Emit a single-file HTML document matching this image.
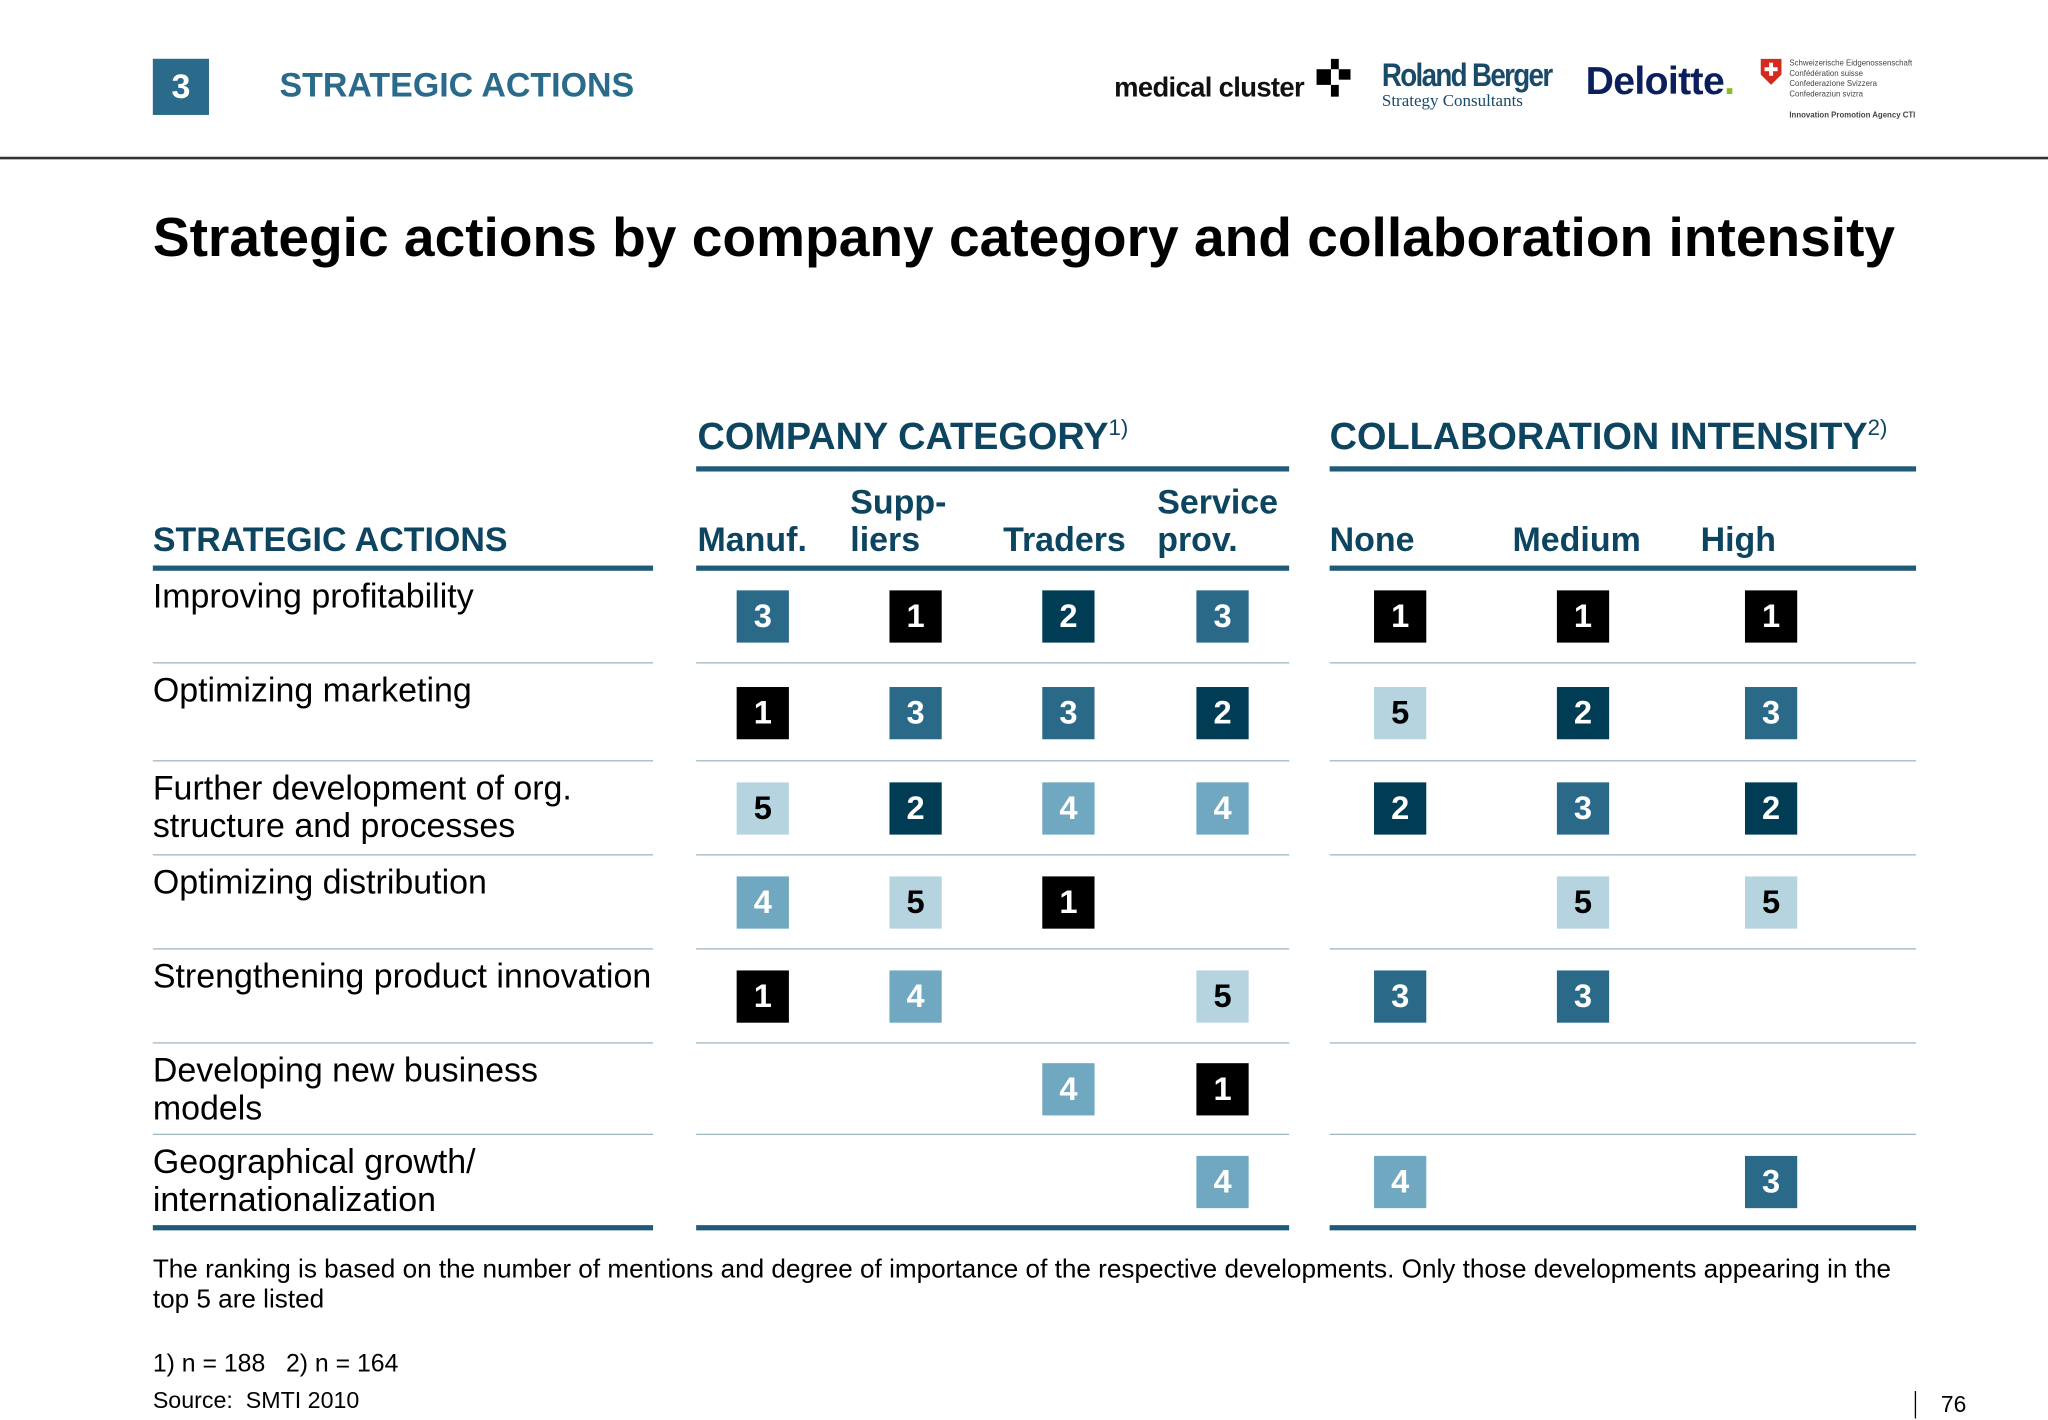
<!DOCTYPE html>
<html><head><meta charset="utf-8">
<style>
html,body{margin:0;padding:0;background:#fff;}
body{width:2048px;height:1418px;overflow:hidden;position:relative;font-family:"Liberation Sans",sans-serif;}
#stage{position:absolute;left:0;top:0;width:1568px;height:1086px;transform:scale(1.30612);transform-origin:0 0;}
.a{position:absolute;white-space:nowrap;}
.hdr{color:#0d4560;font-weight:bold;font-size:26px;line-height:29px;}
.lbl{font-size:26px;line-height:29px;color:#000;}
.thick{position:absolute;height:4px;background:#1f5a78;}
.thin{position:absolute;height:1px;background:#9fb8c4;}
.box{position:absolute;width:40px;height:40px;color:#fff;font-weight:bold;font-size:25px;line-height:40px;text-align:center;}
</style></head><body>
<div id="stage">
  <div class="a" style="left:117px;top:45px;width:43px;height:43px;background:#2a6a8a;color:#fff;font-size:26px;font-weight:bold;line-height:43px;text-align:center;">3</div>
  <div class="a" style="left:214px;top:48px;font-size:26px;font-weight:bold;color:#2a6a8a;line-height:34px;">STRATEGIC ACTIONS</div>

  <div class="a" style="left:853px;top:56px;font-size:21px;font-weight:bold;color:#111;letter-spacing:-0.5px;">medical cluster</div>
  <svg class="a" style="left:1006px;top:45px" width="30" height="30"><rect x="13" y="0" width="6" height="8" fill="#000"/><rect x="2" y="8" width="11" height="12" fill="#000"/><rect x="19" y="8" width="9" height="8" fill="#000"/><rect x="13" y="20" width="6" height="9" fill="#000"/></svg>
  <div class="a" style="left:1058px;top:44px;font-size:25px;font-weight:bold;color:#1a4a6a;letter-spacing:-1.5px;transform:scaleX(0.85);transform-origin:0 0;">Roland Berger</div>
  <div class="a" style="left:1058px;top:69px;font-size:13px;font-family:'Liberation Serif',serif;color:#1a4a6a;">Strategy Consultants</div>
  <div class="a" style="left:1214px;top:46px;font-size:30px;font-weight:bold;color:#0a1f5c;letter-spacing:-0.5px;">Deloitte<span style="color:#86bc25">.</span></div>
  <svg class="a" style="left:1348px;top:45px" width="16" height="20"><path d="M0 0H16V12L8 20L0 12Z" fill="#d52b1e"/><rect x="6.5" y="3" width="3" height="10" fill="#fff"/><rect x="3" y="6.5" width="10" height="3" fill="#fff"/></svg>
  <div class="a" style="left:1370px;top:45px;font-size:6px;line-height:8px;color:#444;">Schweizerische Eidgenossenschaft<br>Confédération suisse<br>Confederazione Svizzera<br>Confederaziun svizra<br><br><b>Innovation Promotion Agency CTI</b></div>

  <div class="a" style="left:0;top:120px;width:1568px;height:2px;background:#333;"></div>

  <div class="a" style="left:117px;top:156px;font-size:42.2px;font-weight:bold;color:#000;line-height:52px;">Strategic actions by company category and collaboration intensity</div>

  <div class="a" style="left:534px;top:311px;font-size:29px;font-weight:bold;color:#0d4560;line-height:34px;">COMPANY CATEGORY<sup style="font-size:17px;font-weight:normal;">1)</sup></div>
  <div class="a" style="left:1018px;top:311px;font-size:29px;font-weight:bold;color:#0d4560;line-height:34px;">COLLABORATION INTENSITY<sup style="font-size:17px;font-weight:normal;">2)</sup></div>
  <div class="thick" style="left:533px;top:357px;width:454px;"></div>
  <div class="thick" style="left:1018px;top:357px;width:449px;"></div>

  <div class="a hdr" style="left:117px;top:399px;">STRATEGIC ACTIONS</div>
  <div class="a hdr" style="left:534px;top:399px;">Manuf.</div>
  <div class="a hdr" style="left:651px;top:370px;">Supp-<br>liers</div>
  <div class="a hdr" style="left:768px;top:399px;">Traders</div>
  <div class="a hdr" style="left:886px;top:370px;">Service<br>prov.</div>
  <div class="a hdr" style="left:1018px;top:399px;">None</div>
  <div class="a hdr" style="left:1158px;top:399px;">Medium</div>
  <div class="a hdr" style="left:1302px;top:399px;">High</div>

  <div class="thick" style="left:117px;top:433px;width:383px;"></div>
  <div class="thick" style="left:533px;top:433px;width:454px;"></div>
  <div class="thick" style="left:1018px;top:433px;width:449px;"></div>

  <div class="thick" style="left:117px;top:938px;width:383px;"></div>
  <div class="thick" style="left:533px;top:938px;width:454px;"></div>
  <div class="thick" style="left:1018px;top:938px;width:449px;"></div>

  <div id="grid"></div>

  <div class="a" style="left:117px;top:961px;font-size:20px;line-height:23px;color:#000;">The ranking is based on the number of mentions and degree of importance of the respective developments. Only those developments appearing in the<br>top 5 are listed</div>
  <div class="a" style="left:117px;top:1033px;font-size:19px;line-height:23px;">1) n = 188&nbsp;&nbsp;&nbsp;2) n = 164</div>
  <div class="a" style="left:117px;top:1061px;font-size:17.8px;line-height:23px;">Source:&nbsp; SMTI 2010</div>
  <div class="a" style="left:1466px;top:1065px;width:1px;height:21px;background:#000;"></div>
  <div class="a" style="left:1486px;top:1064px;font-size:17.5px;line-height:23px;">76</div>
</div>
<script>
const actions = ["Improving profitability","Optimizing marketing","Further development of org.\nstructure and processes","Optimizing distribution","Strengthening product innovation","Developing new business\nmodels","Geographical growth/\ninternationalization"];
const companyCols = ["Manuf.","Suppliers","Traders","Service prov."];
const collabCols = ["None","Medium","High"];
const ranksCompany = [[3,1,2,3],[1,3,3,2],[5,2,4,4],[4,5,1,0],[1,4,0,5],[0,0,4,1],[0,0,0,4]];
const ranksCollab = [[1,1,1],[5,2,3],[2,3,2],[0,5,5],[3,3,0],[0,0,0],[4,0,3]];

const rowTops = [435,507,582,654,726,798,868,940];
const companyX = [584,701,818,936];
const collabX = [1072,1212,1356];
const colors = {1:"#000000",2:"#003d55",3:"#2a6a88",4:"#6fa8c0",5:"#b5d4e0"};
function rowCenter(i){ return (rowTops[i]+rowTops[i+1])/2 + 1; }

const g = document.getElementById('grid');
actions.forEach((t,i)=>{
  const d=document.createElement('div');
  d.className='a lbl';
  
  
  d.style.left='117px'; d.style.top=(rowTops[i]+7)+'px';
  d.innerHTML=t.replace('\n','<br>');
  g.appendChild(d);
  if(i<actions.length-1){
    [[117,383],[533,454],[1018,449]].forEach((s,k)=>{
      const l=document.createElement('div');
      l.className='thin';
      
      
      l.style.left=s[0]+'px'; l.style.width=s[1]+'px'; l.style.top=rowTops[i+1]+'px';
      g.appendChild(l);
    });
  }
  function drawBox(v,cx,name){
    if(!v) return;
    const b=document.createElement('div');
    b.className='box';
    
    
    b.style.left=(cx-20)+'px'; b.style.top=(rowCenter(i)-20)+'px';
    b.style.background=colors[v];
    if(v===5) b.style.color='#000';
    b.textContent=v;
    g.appendChild(b);
  }
  ranksCompany[i].forEach((v,j)=>drawBox(v,companyX[j],'rank-box-company'));
  ranksCollab[i].forEach((v,j)=>drawBox(v,collabX[j],'rank-box-collab'));
});
</script>
</body></html>
